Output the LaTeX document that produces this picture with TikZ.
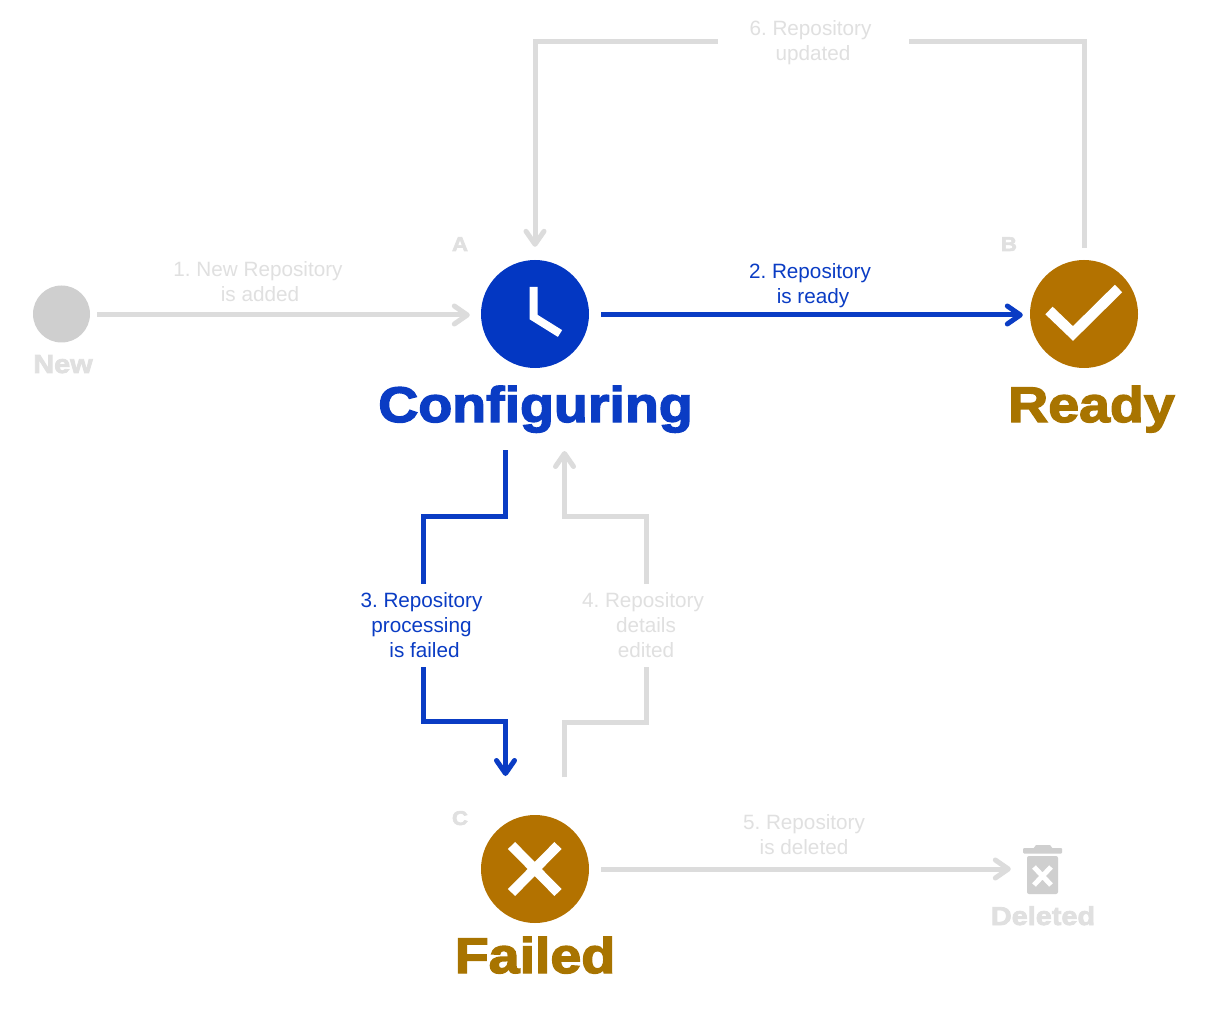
\documentclass[tikz,border=0pt]{standalone}
\usepackage{fontspec}
\setmainfont{Liberation Sans}
\newfontfamily\heavy[FakeBold=2.8,FakeStretch=1.11]{Liberation Sans Bold}
\usetikzlibrary{arrows.meta,calc}
\definecolor{inactive}{HTML}{DCDCDC}
\definecolor{labelgrey}{HTML}{E0E0E0}
\definecolor{activeblue}{HTML}{0A3CC4}
\definecolor{circleblue}{HTML}{0337C2}
\definecolor{brown}{HTML}{B37200}
\definecolor{titlebrown}{HTML}{A87400}
\definecolor{newgrey}{HTML}{CFCFCF}
\tikzset{
  state/.style={circle,minimum size=108pt,inner sep=0pt,fill=#1},
  conn/.style={line width=5pt,draw=#1,-{Straight Barb[length=13pt,width=18pt,line width=5pt,round]},line join=miter},
  lab/.style={font=\frenchspacing\fontsize{20.7}{25}\selectfont,align=center,fill=white,inner sep=2pt,text=#1},
  title/.style={font=\heavy\fontsize{#1}{#1}\selectfont,inner sep=0pt,anchor=base},
  letter/.style={font=\heavy\fontsize{20}{20}\selectfont,text=labelgrey,inner sep=0pt,anchor=base}
}
\begin{document}
\begin{tikzpicture}[x=1pt,y=-1pt]
\useasboundingbox[fill=white] (0,0) rectangle (1213,1024);
% state nodes
\node[state=circleblue] (cfg) at (535,314) {};
\node[state=brown] (rdy) at (1084,314) {};
\node[state=brown] (fail) at (535,869) {};
\node[circle,minimum size=57pt,inner sep=0pt,fill=newgrey] (new) at (61.5,314) {};
\node[minimum width=40pt,minimum height=50pt,inner sep=0pt] (del) at (1043,869) {};
% anchors next to the heading texts
\coordinate (cfgbelowL) at (505.5,450);
\coordinate (cfgbelowR) at (564.5,451);
\coordinate (failaboveL) at (505.5,776);
\coordinate (failaboveR) at (564.5,777);
% titles
\node[title=50,text=activeblue] (tcfg) at (535.5,422) {Configuring};
\node[title=50,text=titlebrown] (trdy) at (1091.5,422) {Ready};
\node[title=50,text=titlebrown] (tfail) at (535,973) {Failed};
\node[title=26,text=labelgrey] (tnew) at (63,373) {New};
\node[title=26,text=labelgrey] (tdel) at (1043,925) {Deleted};
\node[letter] (la) at (460,251) {A};
\node[letter] (lb) at (1009,251) {B};
\node[letter] (lc) at (460,825) {C};
% glyphs
\draw[white,line width=8pt,line join=miter] (533.5,287) -- (533.5,317) -- (560,333.5);
\draw[white,line width=10.5pt,line join=miter] (1049,310.5) -- (1073,333.5) -- (1118.5,288.5);
\draw[white,line width=10pt] (511.5,845.5) -- (558,892.5) (558,845.5) -- (511.5,892.5);
% trash
\fill[newgrey,rounded corners=1pt] (1023,848) rectangle (1062,853.5);
\fill[newgrey] (1033,849) -- (1036,845) -- (1050,845) -- (1053,849) -- cycle;
\fill[newgrey,rounded corners=2pt] (1027,856) -- (1058,856) -- (1058,894) -- (1027,894) -- cycle;
\draw[white,line width=5pt] (1034,867) -- (1051,885) (1051,867) -- (1034,885);
% connectors
\draw[conn=inactive,shorten <=7pt,shorten >=11pt] ([yshift=-1pt]new.east) -- ([yshift=-1pt]cfg.west);
\draw[conn=activeblue,shorten <=12pt,shorten >=7pt] ([yshift=-1pt]cfg.east) -- ([yshift=-1pt]rdy.west);
\draw[conn=inactive,shorten <=12pt,shorten >=12pt] (fail) -- (del);
\draw[conn=inactive,shorten <=12pt,shorten >=13pt] (rdy.north) -- ++(0,-218.5) -| (cfg.north);
\draw[conn=activeblue] (cfgbelowL) -- ++(0,66.5) -| ($(failaboveL)+(-82,-55)$) -| (failaboveL);
\draw[conn=inactive] (failaboveR) -- ++(0,-55) -| ($(cfgbelowR)+(82,65.5)$) -| (cfgbelowR);
% labels
\node[lab=labelgrey] at (258,281.5) {1. New Repository\\\hspace*{4pt}is added};
\node[lab=activeblue,fill=none] at (810,285.5) {2. Repository\\\hspace*{6pt}is ready};
\node[lab=activeblue,minimum width=126pt,minimum height=83pt] at (421.5,625.5) {3. Repository\\processing\\\hspace*{6pt}is failed};
\node[lab=labelgrey,minimum width=126pt,minimum height=83pt] at (643,625.5) {4. Repository\\\hspace*{6pt}details\\\hspace*{6pt}edited};
\node[lab=labelgrey] at (804,834.5) {5. Repository\\is deleted};
\node[lab=labelgrey,minimum width=191pt,minimum height=50pt] at (813.5,42.5) {\hspace*{-6pt}6. Repository\\\hspace*{-1pt}updated};
\end{tikzpicture}
\end{document}
